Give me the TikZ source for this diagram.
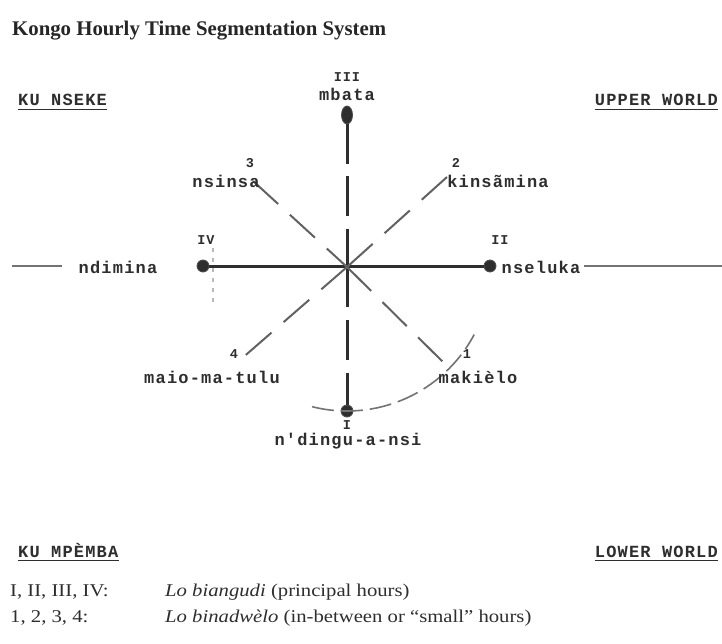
\documentclass[tikz,border=0pt]{standalone}
\usepackage{fontspec}
\setmainfont{Liberation Serif}
\newfontfamily\tw[LetterSpace=7]{Liberation Mono}
\newfontfamily\legfont[FakeStretch=1.15]{Liberation Serif}
\usetikzlibrary{calc,shapes.geometric}
\definecolor{ink}{gray}{0.18}
\definecolor{lgray}{gray}{0.45}
\tikzset{
  tw/.style={font=\tw\bfseries\fontsize{17}{18}\selectfont, text=ink, inner sep=0pt},
  num/.style={font=\tw\bfseries\fontsize{13.5}{14}\selectfont, text=ink, inner sep=0pt},
  dotnode/.style={circle, fill=ink, draw=black!70, line width=0.8pt, minimum size=12pt, inner sep=0pt},
  mainline/.style={draw=ink, line width=3pt},
  maindash/.style={draw=ink, line width=3pt, dash pattern=on 40pt off 13pt},
  diag/.style={draw=lgray!85!black, line width=2pt, dash pattern=on 34pt off 16pt},
  outer/.style={draw=lgray, line width=2pt},
  arcline/.style={draw=lgray, line width=1.6pt, dash pattern=on 22pt off 7pt},
  legend/.style={font=\legfont\fontsize{18}{20}\selectfont, text=ink, inner sep=0pt, anchor=base west},
}
\begin{document}
\begin{tikzpicture}[x=1pt,y=-1pt]
\useasboundingbox[fill=white] (0,0) rectangle (722,644);

% title
\node[font=\bfseries\fontsize{20.8}{22}\selectfont, text=black!85, anchor=base west, inner sep=0pt] (title) at (12,36) {Kongo Hourly Time Segmentation System};

% section labels
\node[tw, anchor=base west] (nseke) at (18,106) {KU NSEKE};
\draw[ink, line width=1.6pt] (nseke.south west) ++(0,3) -- ($(nseke.south east)+(0,3)$);
\node[tw, anchor=base east] (upper) at (718,106) {UPPER WORLD};
\draw[ink, line width=1.6pt] (upper.south west) ++(0,3) -- ($(upper.south east)+(0,3)$);
\node[tw, anchor=base west] (mpemba) at (18,557) {KU MPÈMBA};
\draw[ink, line width=1.6pt] (mpemba.south west) ++(0,3) -- ($(mpemba.south east)+(0,3)$);
\node[tw, anchor=base east] (lower) at (718,557) {LOWER WORLD};
\draw[ink, line width=1.6pt] (lower.south west) ++(0,3) -- ($(lower.south east)+(0,3)$);

% centre and dots
\coordinate (C) at (347,267);
\node[ellipse, fill=ink, draw=black!70, line width=0.8pt, minimum width=11pt, minimum height=18pt, inner sep=0pt] (III) at (347,115) {};
\node[dotnode] (II) at (490,266) {};
\node[dotnode] (IV) at (203,266) {};
\node[dotnode] (I) at (347,411) {};

% main axes
\draw[mainline] (IV) -- (II);
\draw[mainline] (III.south) -- ++(0,40);
\coordinate (IIIa) at (347,176);
\draw[maindash] (IIIa) -- (C);
\draw[maindash] (C) -- (I);

% diagonals
\coordinate (d3) at (253,181);
\coordinate (d1) at (443,362);
\coordinate (d2) at (447,177);
\coordinate (d4) at (240,360);
\draw[diag] (d3) -- (C);
\draw[diag] (C) -- (d1);
\draw[diag] (d2) -- (C);
\draw[diag] (C) -- (d4);

% arc
\draw[arcline] ($(C)+(104:144)$) arc[start angle=104, end angle=28, radius=144];

% faint dotted mark near IV
\coordinate (fa) at (213,248);
\coordinate (fb) at (213,302);
\draw[lgray!50, line width=1.2pt, dash pattern=on 4pt off 6pt] (fa) -- (fb);

% outer lines
\coordinate (oL1) at (12,266);
\coordinate (oL2) at (62,266);
\coordinate (oR1) at (584,266);
\coordinate (oR2) at (722,266);
\draw[outer] (oL1) -- (oL2);
\draw[outer] (oR1) -- (oR2);

% labels
\node[num] (lIII) at (347,77) {III};
\node[tw] (mbata) at (347,94) {mbata};
\node[num] (lIV) at (206,240) {IV};
\node[num] (lII) at (500,240) {II};
\node[tw] (ndimina) at (118,267) {ndimina};
\node[tw] (nseluka) at (541,267) {nseluka};
\node[tw] (nsinsa) at (226,181) {nsinsa};
\node[num] (n3) at (250,163) {3};
\node[tw] (kinsamina) at (498,181) {kinsãmina};
\node[num] (n2) at (456,163) {2};
\node[num] (n4) at (234,354) {4};
\node[tw] (maio) at (212,377) {maio-ma-tulu};
\node[num] (n1) at (467,354) {1};
\node[tw] (makielo) at (478,377) {makièlo};
\node[num] (lI) at (347,425) {I};
\node[tw] (ndingu) at (348,441) {n'dingu-a-nsi};

% legend
\node[legend] (k1) at (10,596) {I, II, III, IV:};
\node[legend] (v1) at (165,596) {\textit{Lo biangudi} (principal hours)};
\node[legend] (k2) at (10,622) {1, 2, 3, 4:};
\node[legend] (v2) at (165,622) {\textit{Lo binadwèlo} (in-between or “small” hours)};
\end{tikzpicture}
\end{document}
